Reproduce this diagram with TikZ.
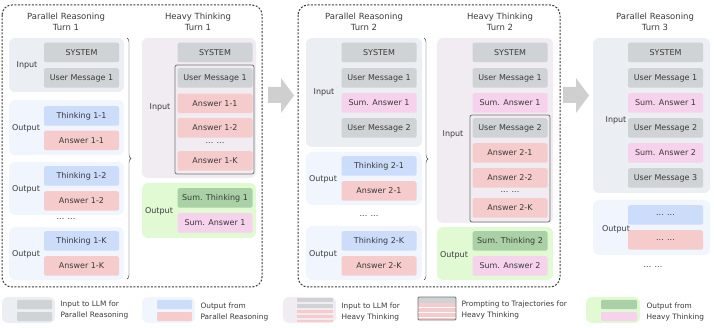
\documentclass[tikz,border=0pt]{standalone}
\usepackage{fontspec}
\setmainfont{DejaVu Sans}
\usetikzlibrary{decorations.pathreplacing}

\definecolor{txt}{HTML}{3A3A3A}
\definecolor{boxgray}{HTML}{D0D3D5}
\definecolor{boxblue}{HTML}{CCDCFB}
\definecolor{boxred}{HTML}{F5CCCB}
\definecolor{boxpink}{HTML}{F6D2EC}
\definecolor{boxgreen}{HTML}{A9D1A5}
\definecolor{panin}{HTML}{EBEEF2}
\definecolor{panout}{HTML}{F1F5FE}
\definecolor{panheavy}{HTML}{F1ECF2}
\definecolor{pangreen}{HTML}{E2FAD4}
\definecolor{arrowgray}{HTML}{CFCFCF}

\begin{document}
\begin{tikzpicture}[x=1pt, y=-1pt,
  every node/.style={font=\fontsize{8}{9.5}\selectfont, text=txt},
  msg/.style={minimum width=75pt, minimum height=19.5pt, inner sep=0pt, rounded corners=2pt},
  gmsg/.style={msg, fill=boxgray},
  bmsg/.style={msg, fill=boxblue},
  rmsg/.style={msg, fill=boxred},
  pmsg/.style={msg, fill=boxpink},
  dmsg/.style={msg, fill=boxgreen},
  panel/.style={rounded corners=6pt},
  title/.style={align=center, font=\fontsize{8.5}{11}\selectfont},
  turnbox/.style={draw=txt, line width=1pt, dash pattern=on 2pt off 1.5pt, rounded corners=10pt},
  traj/.style={draw=gray!90!black, line width=0.8pt, rounded corners=2pt},
  bigarrow/.style={fill=arrowgray},
  legtext/.style={anchor=west, align=left, font=\fontsize{7.4}{11}\selectfont}]
\useasboundingbox (0,0) rectangle (714,328);

% turn frames and arrows
\draw[turnbox] (2,5) rectangle (262,287);
\draw[turnbox] (298,5) rectangle (560,287);
\fill[bigarrow] (268,87) -- (281,87) -- (281,78) -- (294,95.5) -- (281,113) -- (281,103) -- (268,103) -- cycle;
\fill[bigarrow] (563,87) -- (576,87) -- (576,78) -- (589,95.5) -- (576,113) -- (576,103) -- (563,103) -- cycle;

% parallel reasoning, turn 1
\node[title] (pr1) at (66,22) {Parallel Reasoning\\Turn 1};
\fill[panel, panin] (9,38) rectangle (124,92);
\fill[panel, panout] (9,100) rectangle (124,155);
\fill[panel, panout] (9,162) rectangle (124,215);
\fill[panel, panout] (9,227) rectangle (124,280);
\node (pr1in) at (27,65) {Input};
\node (pr1outa) at (26,128) {Output};
\node (pr1outb) at (26,189) {Output};
\node (pr1outk) at (26,254) {Output};
\node[gmsg] (pr1sys) at (81.5,52.5) {SYSTEM};
\node[gmsg] (pr1um1) at (81.5,78) {User Message 1};
\node[bmsg] (pr1t1) at (81.5,116) {Thinking 1-1};
\node[rmsg] (pr1a1) at (81.5,140.5) {Answer 1-1};
\node[bmsg] (pr1t2) at (81.5,176) {Thinking 1-2};
\node[rmsg] (pr1a2) at (81.5,201) {Answer 1-2};
\node (pr1dots) at (66,219) {... ...};
\node[bmsg] (pr1tk) at (81.5,241) {Thinking 1-K};
\node[rmsg] (pr1ak) at (81.5,266) {Answer 1-K};
\draw[txt, decorate, decoration={brace, amplitude=4pt}] (127,38) -- (127,279);

% heavy thinking, turn 1
\node[title] (ht1) at (198,22) {Heavy Thinking\\Turn 1};
\fill[panel, panheavy] (142,38) rectangle (256,178);
\fill[panel, pangreen] (142,183) rectangle (256,238);
\node (ht1in) at (160,107) {Input};
\node (ht1out) at (159,211) {Output};
\node[gmsg] (ht1sys) at (215,52.5) {SYSTEM};
\draw[traj] (175,65) rectangle (254,174);
\node[gmsg] (ht1um1) at (215,78) {User Message 1};
\node[rmsg] (ht1a1) at (215,103.5) {Answer 1-1};
\node[rmsg] (ht1a2) at (215,128) {Answer 1-2};
\node (ht1dots) at (215,143) {... ...};
\node[rmsg] (ht1ak) at (215,161) {Answer 1-K};
\node[dmsg] (ht1st) at (215,198) {Sum. Thinking 1};
\node[pmsg] (ht1sa) at (215,223) {Sum. Answer 1};

% parallel reasoning, turn 2
\node[title] (pr2) at (364,22) {Parallel Reasoning\\Turn 2};
\fill[panel, panin] (306,38) rectangle (422,147);
\fill[panel, panout] (306,152) rectangle (422,205);
\fill[panel, panout] (306,226) rectangle (422,280);
\node (pr2in) at (324,92) {Input};
\node (pr2outa) at (323,179) {Output};
\node (pr2outk) at (323,254) {Output};
\node[gmsg] (pr2sys) at (379,52.5) {SYSTEM};
\node[gmsg] (pr2um1) at (379,78) {User Message 1};
\node[pmsg] (pr2sa1) at (379,103) {Sum. Answer 1};
\node[gmsg] (pr2um2) at (379,128) {User Message 2};
\node[bmsg] (pr2t1) at (379,166) {Thinking 2-1};
\node[rmsg] (pr2a1) at (379,191) {Answer 2-1};
\node (pr2dots) at (369,216) {... ...};
\node[bmsg] (pr2tk) at (379,241) {Thinking 2-K};
\node[rmsg] (pr2ak) at (379,266) {Answer 2-K};
\draw[txt, decorate, decoration={brace, amplitude=4pt}] (424,38) -- (424,280);

% heavy thinking, turn 2
\node[title] (ht2) at (500,22) {Heavy Thinking\\Turn 2};
\fill[panel, panheavy] (437,38) rectangle (553,223);
\fill[panel, pangreen] (437,227) rectangle (553,280);
\node (ht2in) at (453,134) {Input};
\node (ht2out) at (454,255) {Output};
\node[gmsg] (ht2sys) at (510,52.5) {SYSTEM};
\node[gmsg] (ht2um1) at (510,78) {User Message 1};
\node[pmsg] (ht2sa1) at (510,103) {Sum. Answer 1};
\draw[traj] (470,115) rectangle (550,222);
\node[gmsg] (ht2um2) at (510,128) {User Message 2};
\node[rmsg] (ht2a1) at (510,153) {Answer 2-1};
\node[rmsg] (ht2a2) at (510,178) {Answer 2-2};
\node (ht2dots) at (510,192) {... ...};
\node[rmsg] (ht2ak) at (510,208) {Answer 2-K};
\node[dmsg] (ht2st) at (510,241) {Sum. Thinking 2};
\node[pmsg] (ht2sa) at (510,266) {Sum. Answer 2};

% parallel reasoning, turn 3
\node[title] (pr3) at (655,22) {Parallel Reasoning\\Turn 3};
\fill[panel, panin] (593,38) rectangle (710,193);
\fill[panel, panout] (593,200) rectangle (710,255);
\node (pr3in) at (616,120) {Input};
\node (pr3out) at (616,229) {Output};
\node[gmsg] (pr3sys) at (665.5,52.5) {SYSTEM};
\node[gmsg] (pr3um1) at (665.5,78) {User Message 1};
\node[pmsg] (pr3sa1) at (665.5,103) {Sum. Answer 1};
\node[gmsg] (pr3um2) at (665.5,128) {User Message 2};
\node[pmsg] (pr3sa2) at (665.5,153) {Sum. Answer 2};
\node[gmsg] (pr3um3) at (665.5,178) {User Message 3};
\node[bmsg] (pr3t) at (665.5,215) {... ...};
\node[rmsg] (pr3a) at (665.5,240) {... ...};
\node (pr3dots) at (653,267) {... ...};

% legend
\fill[panel, panin] (2,297) rectangle (55,323);
\fill[boxgray, rounded corners=1pt] (17,300) rectangle (52,309);
\fill[boxgray, rounded corners=1pt] (17,312) rectangle (52,321);
\node[legtext] (leg1) at (57,310) {Input to LLM for\\Parallel Reasoning};
\fill[panel, panout] (142,297) rectangle (195,323);
\fill[boxblue, rounded corners=1pt] (157,300) rectangle (192,309);
\fill[boxred, rounded corners=1pt] (157,312) rectangle (192,321);
\node[legtext] (leg2) at (197,312) {Output from\\Parallel Reasoning};
\fill[panel, panheavy] (283,297) rectangle (336,323);
\fill[boxgray] (297,298) rectangle (333,302);
\fill[boxgray] (297,304) rectangle (333,307.5);
\fill[boxred] (297,309.5) rectangle (333,312.5);
\fill[boxred] (297,314.5) rectangle (333,317.5);
\fill[boxred] (297,319.5) rectangle (333,322);
\node[legtext] (leg3) at (338,312) {Input to LLM for\\Heavy Thinking};
\fill[boxred] (418,297) rectangle (456,320);
\fill[boxgray] (418,297) rectangle (456,303);
\fill[white] (418,307) rectangle (456,308);
\fill[white] (418,312) rectangle (456,313);
\fill[white] (418,316.5) rectangle (456,317.5);
\draw[traj, rounded corners=1pt] (418,297) rectangle (456,320);
\node[legtext] (leg4) at (458,310) {Prompting to Trajectories for\\Heavy Thinking};
\fill[panel, pangreen] (586,297) rectangle (640,323);
\fill[boxgreen, rounded corners=1pt] (601,300) rectangle (637,309);
\fill[boxpink, rounded corners=1pt] (601,312) rectangle (637,321);
\node[legtext] (leg5) at (643,312) {Output from\\Heavy Thinking};
\end{tikzpicture}
\end{document}
